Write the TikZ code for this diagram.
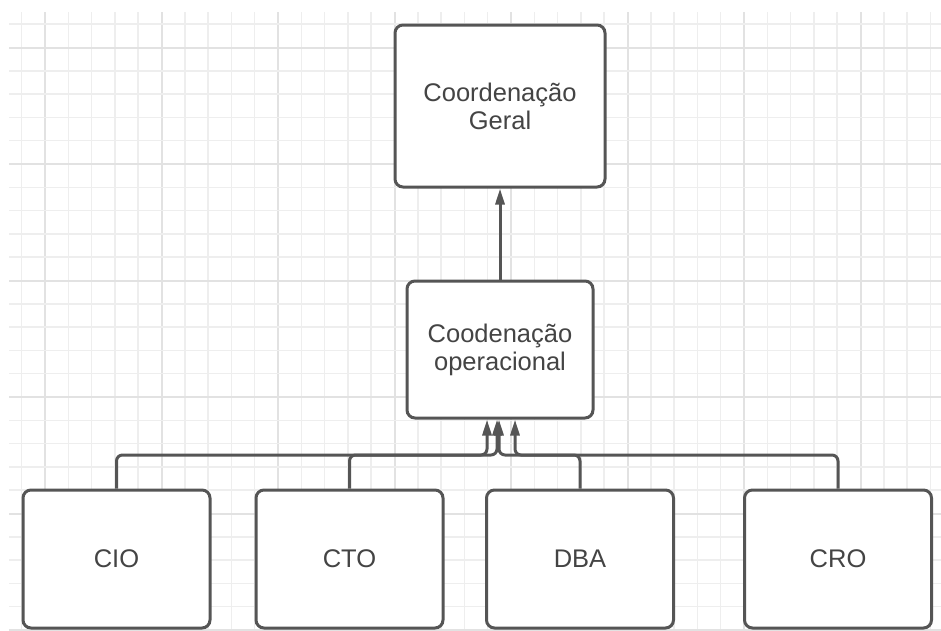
\documentclass[tikz,border=0pt]{standalone}
\usepackage{fontspec}
\setmainfont{Liberation Sans}
\usetikzlibrary{arrows.meta}
\definecolor{linegray}{HTML}{555555}
\definecolor{textgray}{HTML}{444444}
\definecolor{gridminor}{HTML}{EEEEEE}
\definecolor{gridmajor}{HTML}{E2E2E2}
\tikzset{
  box/.style={draw=linegray, line width=3pt, rounded corners=8pt, fill=white,
    text=textgray, align=center, inner sep=0pt,
    font=\fontsize{25.5}{28}\selectfont},
  conn/.style={draw=linegray, line width=3pt, rounded corners=6pt,
    -{Triangle[length=16pt,width=9pt]}},
}
\begin{document}
\begin{tikzpicture}[x=1pt,y=-1pt]
\useasboundingbox (0,0) rectangle (941,630);
\fill[white] (0,0) rectangle (941,630);
% grid
\begin{scope}
\clip (9,12) rectangle (941,630);
\foreach \i in {-1,...,38} {
  \pgfmathsetmacro{\xx}{45+23.3*\i}
  \pgfmathtruncatemacro{\m}{mod(\i+5,5)}
  \ifnum\m=0
    \draw[gridmajor, line width=2pt] (\xx,0) -- (\xx,630);
  \else
    \draw[gridminor, line width=1.5pt] (\xx,0) -- (\xx,630);
  \fi
}
\foreach \j in {-16,...,10} {
  \pgfmathsetmacro{\yy}{397+23.3*\j}
  \pgfmathtruncatemacro{\m}{mod(\j+20,5)}
  \ifnum\m=0
    \draw[gridmajor, line width=2pt] (0,\yy) -- (941,\yy);
  \else
    \draw[gridminor, line width=1.5pt] (0,\yy) -- (941,\yy);
  \fi
}
\end{scope}
% nodes
\node[box, minimum width=210pt, minimum height=162pt] (top) at (500,106) {Coordenação\\Geral};
\node[box, minimum width=186pt, minimum height=137pt] (mid) at (500,349.5) {Coodenação\\operacional};
\node[box, minimum width=187pt, minimum height=138pt] (cio) at (116.5,559) {CIO};
\node[box, minimum width=187pt, minimum height=138pt] (cto) at (349.5,559) {CTO};
\node[box, minimum width=187pt, minimum height=138pt] (dba) at (580,559) {DBA};
\node[box, minimum width=187pt, minimum height=138pt] (cro) at (838,559) {CRO};
\coordinate (bus) at (0,455);
% connectors
\draw[conn] (mid.north) -- (top.south);
\draw[conn] (cio.north) -- (cio.north |- bus) -| ([xshift=-13pt]mid.south);
\draw[conn] (cto.north) -- (cto.north |- bus) -| ([xshift=-3pt]mid.south);
\draw[conn] (dba.north) -- (dba.north |- bus) -| ([xshift=-1pt]mid.south);
\draw[conn] (cro.north) -- (cro.north |- bus) -| ([xshift=15pt]mid.south);
\end{tikzpicture}
\end{document}
